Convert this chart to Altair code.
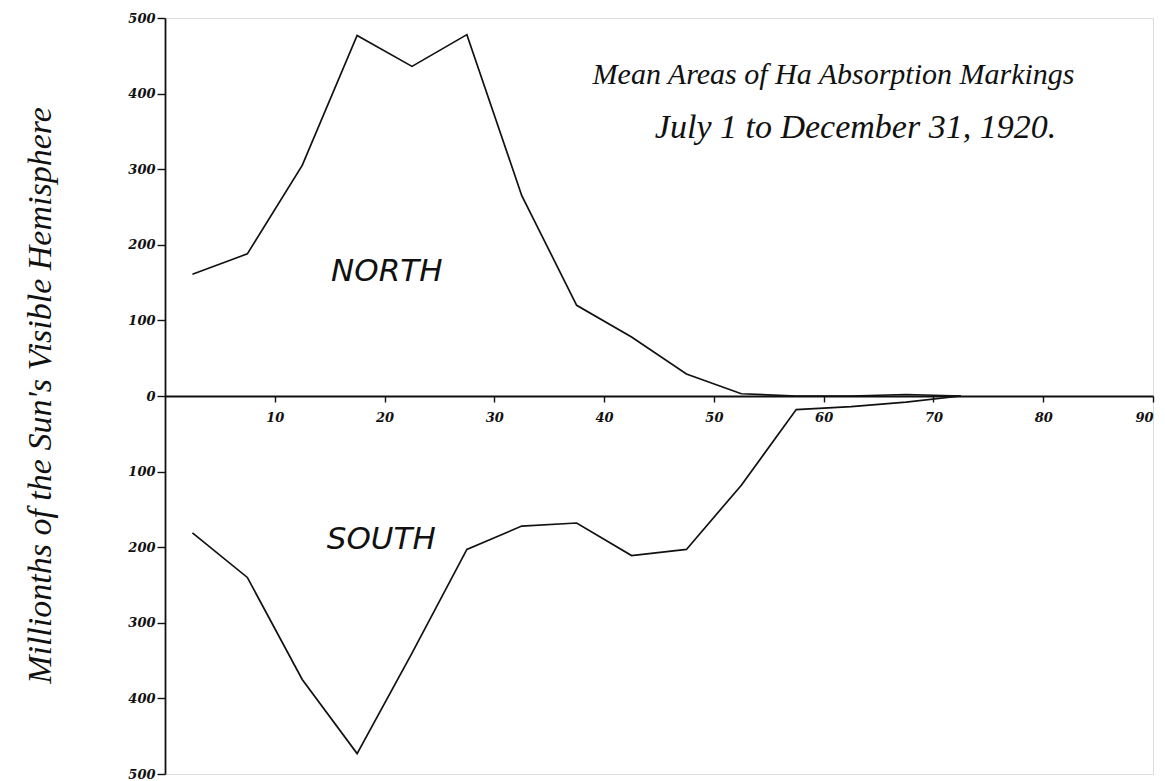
import altair as alt
import pandas as pd

# Latitude zone mid-points (degrees)
latitude = [2.5, 7.5, 12.5, 17.5, 22.5, 27.5, 32.5, 37.5, 42.5, 47.5, 52.5, 57.5, 62.5, 67.5, 72.5]
# Mean areas, millionths of the Sun's visible hemisphere
north_area = [161, 188, 305, 477, 436, 478, 265, 120, 78, 29, 3, 0, 0, 2, 0]
south_area = [181, 240, 375, 473, 340, 203, 172, 168, 211, 203, 118, 18, 14, 8, 0]

x_ticks = [10, 20, 30, 40, 50, 60, 70, 80, 90]
y_ticks = [500, 400, 300, 200, 100, 0, -100, -200, -300, -400, -500]

title_lines = ["Mean Areas of Ha Absorption Markings", "July 1 to December 31, 1920."]
title_x = [60.9, 62.9]
title_y = [425, 354]
title_size = [30, 34]

region_labels = ["NORTH", "SOUTH"]
region_x = [20.2, 19.7]
region_y = [164, -190]

rows = []
for lat, n in zip(latitude, north_area):
    rows.append({"lat": lat, "area": n, "hemi": "North"})
for lat, s in zip(latitude, south_area):
    rows.append({"lat": lat, "area": -s, "hemi": "South"})
df = pd.DataFrame(rows)

W, H = 988, 756

xscale = alt.Scale(domain=[0, 90], nice=False, zero=False)
yscale = alt.Scale(domain=[-500, 500], nice=False)

lines = alt.Chart(df).mark_line(color="#111111", strokeWidth=1.7).encode(
    x=alt.X(
        "lat:Q",
        scale=xscale,
        axis=alt.Axis(
            values=x_ticks,
            offset=-H / 2,
            grid=False,
            domainColor="#111111",
            domainWidth=1.8,
            tickColor="#111111",
            tickSize=6,
            tickWidth=1.4,
            labelFont="DejaVu Serif",
            labelFontStyle="italic",
            labelFontWeight="bold",
            labelFontSize=13,
            labelColor="#111111",
            labelPadding=9,
            title=None,
        ),
    ),
    y=alt.Y(
        "area:Q",
        scale=yscale,
        axis=alt.Axis(
            values=y_ticks,
            labelExpr="format(abs(datum.value), 'd')",
            grid=False,
            domainColor="#111111",
            domainWidth=1.8,
            tickColor="#111111",
            tickSize=8,
            tickWidth=1.4,
            labelFont="DejaVu Serif",
            labelFontStyle="italic",
            labelFontWeight="bold",
            labelFontSize=13,
            labelColor="#111111",
            labelPadding=2,
            title="Millionths of the Sun's Visible Hemisphere",
            titleFont="Liberation Serif",
            titleFontStyle="italic",
            titleFontWeight="normal",
            titleFontSize=34,
            titleColor="#111111",
            titleAngle=-90,
            titleX=-125,
            titleY=377,
            titleAlign="center",
            titleBaseline="middle",
        ),
    ),
    detail="hemi:N",
)

titles_df = pd.DataFrame({"text": title_lines, "x": title_x, "y": title_y, "size": title_size})
titles = alt.Chart(titles_df).mark_text(
    font="Liberation Serif", fontStyle="italic", color="#111111", align="center", baseline="middle"
).encode(
    x=alt.X("x:Q", scale=xscale),
    y=alt.Y("y:Q", scale=yscale),
    text="text:N",
    size=alt.Size("size:Q", scale=None, legend=None),
)

regions_df = pd.DataFrame({"text": region_labels, "x": region_x, "y": region_y})
regions = alt.Chart(regions_df).mark_text(
    font="DejaVu Sans", fontSize=31, fontStyle="italic", color="#111111", align="center", baseline="middle"
).encode(
    x=alt.X("x:Q", scale=xscale),
    y=alt.Y("y:Q", scale=yscale),
    text="text:N",
)

chart = (
    alt.layer(lines, titles, regions)
    .properties(
        width=W,
        height=H,
        autosize=alt.AutoSizeParams(type="none"),
        padding={"left": 157, "top": 10, "right": 4, "bottom": 7},
    )
    .configure_view(stroke=None)
    .configure(background="white")
)

chart.save("out.html", embed_options={"renderer": "svg", "actions": False})
